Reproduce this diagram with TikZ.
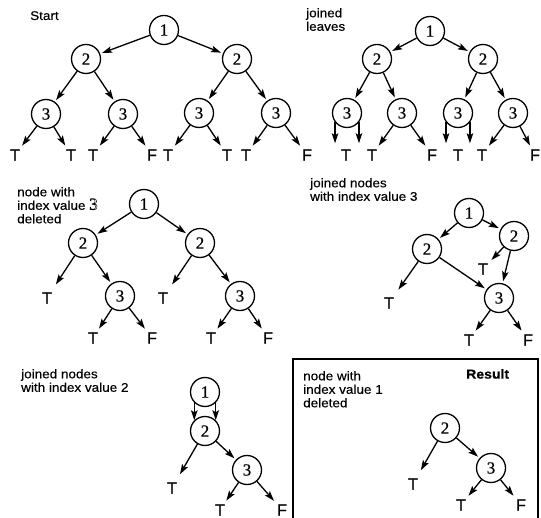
\documentclass[tikz,border=0pt]{standalone}
\usepackage{fontspec}
\setmainfont{Liberation Serif}
\newfontfamily\labfont[FakeStretch=1.08,FakeBold=0.4]{Liberation Sans}
\newfontfamily\leaffont[FakeBold=0.6]{Liberation Sans}
\newfontfamily\digitfont[FakeBold=0.6]{Liberation Serif}
\usetikzlibrary{arrows.meta}

% outlined (stroked) glyphs
\newcommand\strokedtext[1]{\special{pdf:literal 1 Tr 0.45 w}#1\special{pdf:literal 0 Tr}}

\tikzset{
  vnode/.style={circle, draw, line width=1.3pt, minimum size=29pt, inner sep=0pt,
                font=\digitfont\fontsize{17}{17}\selectfont},
  leaf/.style={inner sep=2pt, font=\leaffont\fontsize{16}{16}\selectfont},
  arr/.style={-{Stealth[length=10pt,width=6.5pt,inset=2pt]}, line width=1.3pt, shorten >=2pt},
  far/.style={shorten >=7pt},
  lab/.style={anchor=north west, align=left, inner sep=0pt,
              font=\labfont\fontsize{12.5}{13.5}\selectfont},
  boxline/.style={line width=1.6pt},
}

\begin{document}
\begin{tikzpicture}[x=1pt,y=-1pt]
\useasboundingbox (0,0) rectangle (541,518);

% ---------- Start ----------
\node[lab] (tStart) at (30,11) {Start};
\node[vnode] (s1)  at (164,30) {1};
\node[vnode] (s2a) at (86,59)  {2};
\node[vnode] (s2b) at (237,59) {2};
\node[vnode] (s3a) at (46,114) {3};
\node[vnode] (s3b) at (123,114) {3};
\node[vnode] (s3c) at (199,113) {3};
\node[vnode] (s3d) at (276,113) {3};
\node[leaf] (s4a) at (15,155)  {T};
\node[leaf] (s4b) at (71,155)  {T};
\node[leaf] (s4c) at (93,155)  {T};
\node[leaf] (s4d) at (152,155) {F};
\node[leaf] (s4e) at (168,155) {T};
\node[leaf] (s4f) at (227,155) {T};
\node[leaf] (s4g) at (246,155) {T};
\node[leaf] (s4h) at (307,155) {F};
\draw[arr] (s1) -- (s2a);
\draw[arr] (s1) -- (s2b);
\draw[arr] (s2a) -- (s3a);
\draw[arr] (s2a) -- (s3b);
\draw[arr] (s2b) -- (s3c);
\draw[arr] (s2b) -- (s3d);
\draw[arr] (s3a) -- (s4a);
\draw[arr] (s3a) -- (s4b);
\draw[arr] (s3b) -- (s4c);
\draw[arr] (s3b) -- (s4d);
\draw[arr] (s3c) -- (s4e);
\draw[arr] (s3c) -- (s4f);
\draw[arr] (s3d) -- (s4g);
\draw[arr] (s3d) -- (s4h);

% ---------- joined leaves ----------
\node[lab] (tJoin) at (306,8) {joined\\leaves};
\node[vnode] (j1)  at (430,31) {1};
\node[vnode] (j2a) at (377,59) {2};
\node[vnode] (j2b) at (483,59) {2};
\node[vnode] (j3a) at (347,113) {3};
\node[vnode] (j3b) at (402,113) {3};
\node[vnode] (j3c) at (458,113) {3};
\node[vnode] (j3d) at (513,113) {3};
\node[leaf] (j4a) at (346,155) {T};
\node[leaf] (j4b) at (372,155) {T};
\node[leaf] (j4c) at (432,155) {F};
\node[leaf] (j4d) at (458,155) {T};
\node[leaf] (j4e) at (482,155) {T};
\node[leaf] (j4f) at (535,155) {F};
\draw[arr] (j1) -- (j2a);
\draw[arr] (j1) -- (j2b);
\draw[arr] (j2a) -- (j3a);
\draw[arr] (j2a) -- (j3b);
\draw[arr] (j2b) -- (j3c);
\draw[arr] (j2b) -- (j3d);
\draw[arr, shorten >=4pt] (j3a.-142) -- (j3a.-142 |- j4a.north);
\draw[arr, shorten >=4pt] (j3a.-38)  -- (j3a.-38 |- j4a.north);
\draw[arr] (j3b) -- (j4b);
\draw[arr] (j3b) -- (j4c);
\draw[arr, shorten >=4pt] (j3c.-142) -- (j3c.-142 |- j4d.north);
\draw[arr, shorten >=4pt] (j3c.-38)  -- (j3c.-38 |- j4d.north);
\draw[arr] (j3d) -- (j4e);
\draw[arr] (j3d) -- (j4f);

% ---------- node with index value 3 deleted ----------
\node[lab] (tDel3) at (17,187) {node with\\index value {\fontspec{Liberation Serif}\fontsize{17}{13.5}\selectfont\strokedtext{3}}\\deleted};
\node[vnode] (d1)  at (144,204) {1};
\node[vnode] (d2a) at (83,243)  {2};
\node[vnode] (d2b) at (200,243) {2};
\node[vnode] (d3a) at (120,296) {3};
\node[vnode] (d3b) at (240,296) {3};
\node[leaf] (d4a) at (47,298)  {T};
\node[leaf] (d4b) at (163,298) {T};
\node[leaf] (d4c) at (93,338)  {T};
\node[leaf] (d4d) at (152,338) {F};
\node[leaf] (d4e) at (211,338) {T};
\node[leaf] (d4f) at (268,338) {F};
\draw[arr] (d1) -- (d2a);
\draw[arr] (d1) -- (d2b);
\draw[arr, far] (d2a) -- (d4a);
\draw[arr] (d2a) -- (d3a);
\draw[arr, far] (d2b) -- (d4b);
\draw[arr] (d2b) -- (d3b);
\draw[arr] (d3a) -- (d4c);
\draw[arr] (d3a) -- (d4d);
\draw[arr] (d3b) -- (d4e);
\draw[arr] (d3b) -- (d4f);

% ---------- joined nodes with index value 3 ----------
\node[lab] (tJoin3) at (310,178) {joined nodes\\with index value 3};
\node[vnode] (k1)  at (469,213) {1};
\node[vnode] (k2a) at (427,249) {2};
\node[vnode] (k2b) at (514,236) {2};
\node[vnode] (k3)  at (499,298) {3};
\node[leaf] (k4a) at (483,269) {T};
\node[leaf] (k4b) at (389,303) {T};
\node[leaf] (k4c) at (469,340) {T};
\node[leaf] (k4d) at (528,340) {F};
\draw[arr] (k1) -- (k2a);
\draw[arr] (k1) -- (k2b);
\draw[arr] (k2b) -- (k4a);
\draw[arr] (k2b) -- (k3);
\draw[arr, far] (k2a) -- (k4b);
\draw[arr] (k2a) -- (k3);
\draw[arr] (k3) -- (k4c);
\draw[arr] (k3) -- (k4d);

% ---------- joined nodes with index value 2 ----------
\node[lab] (tJoin2) at (21,369) {joined nodes\\with index value 2};
\node[vnode] (p1) at (205,392) {1};
\node[vnode] (p2) at (205,431) {2};
\node[vnode] (p3) at (247,470) {3};
\node[leaf] (p4a) at (172,488) {T};
\node[leaf] (p4b) at (220,510) {T};
\node[leaf] (p4c) at (282,510) {F};
\draw[arr, shorten >=0pt] (p1.-135) -- (p2.135);
\draw[arr, shorten >=0pt] (p1.-45)  -- (p2.45);
\draw[arr, far] (p2) -- (p4a);
\draw[arr] (p2) -- (p3);
\draw[arr] (p3) -- (p4b);
\draw[arr] (p3) -- (p4c);

% ---------- result panel ----------
\draw[boxline] (293,522) -- (293,359) -- (538,359) -- (538,522);
\node[lab] (tDel1) at (303,371) {node with\\index value 1\\deleted};
\node[lab, font=\labfont\bfseries\fontsize{13}{13.5}\selectfont] (tRes) at (466,369) {Result};
\node[vnode] (r2) at (445,428) {2};
\node[vnode] (r3) at (491,468) {3};
\node[leaf] (r4a) at (413,484) {T};
\node[leaf] (r4b) at (461,505) {T};
\node[leaf] (r4c) at (521,505) {F};
\draw[arr, far] (r2) -- (r4a);
\draw[arr] (r2) -- (r3);
\draw[arr] (r3) -- (r4b);
\draw[arr] (r3) -- (r4c);
\end{tikzpicture}
\end{document}
